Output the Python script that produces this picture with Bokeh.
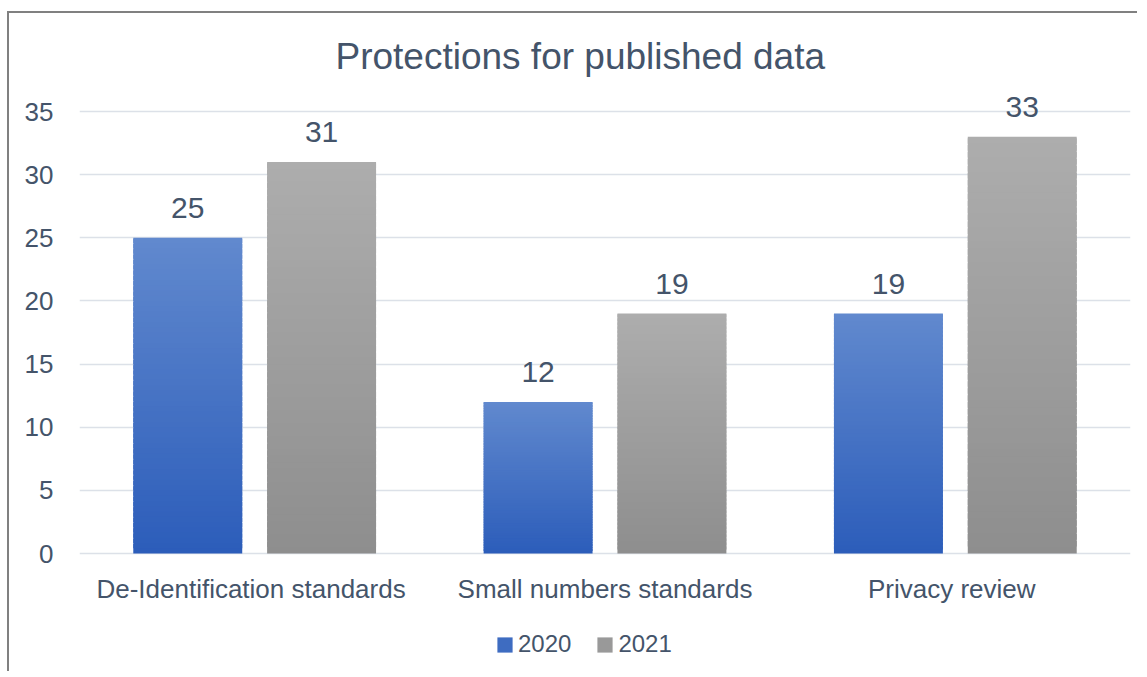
from bokeh.plotting import figure
from bokeh.models import (FactorRange, Range1d, FixedTicker, Legend, LegendItem,
                          ColumnDataSource)
from bokeh.transform import dodge
from bokeh.embed import file_html
from bokeh.resources import INLINE
from bokeh.core.properties import value

# ---- data ----
categories = ["De-Identification  standards", "Small numbers standards", "Privacy  review"]
series_names = ["2020", "2021"]
values_2020 = [25, 12, 19]
values_2021 = [31, 19, 33]
y_ticks = [0, 5, 10, 15, 20, 25, 30, 35]

# ---- styles ----
FONT = "Liberation Sans"
TEXT = "#44546A"
GRID = "#DCE1E8"
blue_top, blue_bottom = "#6189CE", "#2C5DBA"
gray_top, gray_bottom = "#ADADAD", "#8E8E8E"
offsets = [-0.191, 0.191]
bar_w = 0.311
N = 60


def hex2rgb(h):
    h = h.lstrip("#")
    return tuple(int(h[i:i + 2], 16) for i in (0, 2, 4))


def mix(c0, c1, t):
    a, b = hex2rgb(c0), hex2rgb(c1)
    return "#%02x%02x%02x" % tuple(round(a[k] + (b[k] - a[k]) * t) for k in range(3))


p = figure(x_range=FactorRange(*categories, range_padding=0), y_range=Range1d(-9.50, 36.98),
           width=1130, height=660, output_backend="svg", toolbar_location=None,
           min_border_left=70, min_border_right=9, min_border_top=73, min_border_bottom=0,
           background_fill_color="white", border_fill_color="white")
p.outline_line_color = None
p.styles = {"margin-left": "7px", "margin-top": "11px",
            "border-left": "2px solid #808080", "border-top": "2px solid #808080"}

# title
p.title.text = "Protections for published data"
p.title.align = "left"
p.title.offset = 256
p.title.text_font = FONT
p.title.text_font_size = "37px"
p.title.text_font_style = "normal"
p.title.text_color = TEXT
p.title.standoff = 20

# axes
p.xaxis.visible = False
p.yaxis.ticker = FixedTicker(ticks=y_ticks)
p.yaxis.axis_line_color = None
p.yaxis.major_tick_line_color = None
p.yaxis.minor_tick_line_color = None
p.yaxis.major_tick_out = 0
p.yaxis.major_label_standoff = 26
p.yaxis.major_label_text_font = FONT
p.yaxis.major_label_text_font_size = "26px"
p.yaxis.major_label_text_color = TEXT

p.xgrid.grid_line_color = None
p.ygrid.ticker = FixedTicker(ticks=y_ticks)
p.ygrid.grid_line_color = GRID
p.ygrid.grid_line_width = 1.5

# gradient bars (each bar split into overlapping slices)
series = [(values_2020, blue_top, blue_bottom), (values_2021, gray_top, gray_bottom)]
bar_renderers = []
for (vals, ctop, cbot), off in zip(series, offsets):
    xs, bots, tops, cols = [], [], [], []
    for cat, v in zip(categories, vals):
        for i in range(N):
            xs.append(cat)
            bots.append(v * i / N)
            tops.append(min(v, v * (i + 1.8) / N))
            cols.append(mix(cbot, ctop, (i + 0.5) / N))
    src = ColumnDataSource(dict(cat=xs, bottom=bots, top=tops, color=cols))
    r = p.vbar(x=dodge("cat", off, range=p.x_range), bottom="bottom", top="top", width=bar_w,
               source=src, fill_color="color", line_color=None)
    bar_renderers.append(r)

# data labels
for vals, off in zip([values_2020, values_2021], offsets):
    src = ColumnDataSource(dict(cat=categories, val=vals, label=[str(v) for v in vals]))
    p.text(x=dodge("cat", off, range=p.x_range), y="val", text="label", source=src,
           text_align="center", text_baseline="alphabetic", y_offset=-30,
           text_font=value(FONT), text_font_size="30px", text_color=TEXT)

# category labels (below the baseline)
cat_src = ColumnDataSource(dict(cat=categories, base=[0] * len(categories)))
p.text(x="cat", y="base", text="cat", source=cat_src, text_align="center",
       text_baseline="middle", y_offset=35, text_font=value(FONT),
       text_font_size="26px", text_color=TEXT)

# legend
legend = Legend(items=[LegendItem(label=series_names[0], renderers=[bar_renderers[0]], index=N // 3),
                       LegendItem(label=series_names[1], renderers=[bar_renderers[1]], index=N // 3)],
                orientation="horizontal", location=(416, 15),
                glyph_width=19, glyph_height=19, label_standoff=4, spacing=24,
                padding=0, margin=0, border_line_color=None, background_fill_alpha=0,
                label_text_font=FONT, label_text_font_size="24px", label_text_color=TEXT)
p.add_layout(legend, "center")

open("out.html", "w").write(file_html(p, INLINE))
